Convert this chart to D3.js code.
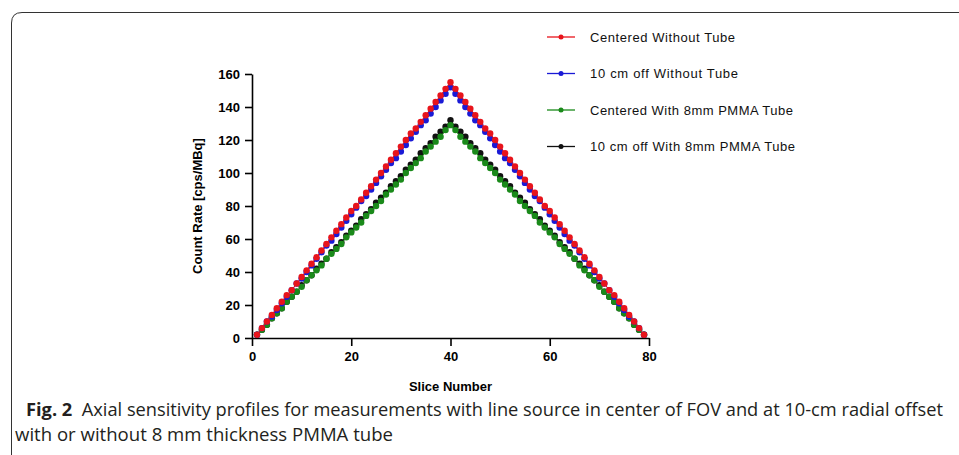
<!DOCTYPE html>
<html>
<head>
<meta charset="utf-8">
<script src="https://cdn.jsdelivr.net/npm/d3@7"></script>
<style>
  body { margin: 0; background: #fff; }
  svg { display: block; }
</style>
</head>
<body>
<div id="chart"></div>
<script>
var slices = d3.range(1, 80)

// values, slice 1..79
var centeredNoTube = [2,6,10,14,18,22,26,29,33,37,41,45,49,53,57,61,65,69,73,77,80,84,88,92,96,100,104,108,112,116,120,124,127,131,135,139,143,147,151,155,
  151,147,143,139,135,131,127,124,120,116,112,108,104,100,96,92,88,84,80,77,73,69,65,61,57,53,49,45,41,37,33,29,26,22,18,14,10,6,2]
var offNoTube = [2,6,10,13,17,21,25,29,33,36,40,44,48,52,56,59,63,67,71,75,79,83,86,90,94,98,102,106,109,113,117,121,125,129,132,136,140,144,148,152,
  148,144,140,136,132,129,125,121,117,113,109,106,102,98,94,90,86,83,79,75,71,67,63,59,56,52,48,44,40,36,33,29,25,21,17,13,10,6,2]
var centeredTube = [2,5,8,12,15,18,22,25,28,31,35,38,41,44,48,51,54,57,61,64,67,70,74,77,80,83,87,90,93,96,100,103,106,109,113,116,119,122,126,129,
  126,122,119,116,113,109,106,103,100,96,93,90,87,83,80,77,74,70,67,64,61,57,54,51,48,44,41,38,35,31,28,25,22,18,15,12,8,5,2]
var offTube = [2,5,8,12,15,18,22,25,28,32,35,38,42,45,48,52,55,58,62,65,68,72,75,78,82,85,88,92,95,98,102,105,108,112,115,118,122,125,128,132,
  128,125,122,118,115,112,108,105,102,98,95,92,88,85,82,78,75,72,68,65,62,58,55,52,48,45,42,38,35,32,28,25,22,18,15,12,8,5,2]

var seriesNames = ['Centered Without Tube', '10 cm off Without Tube', 'Centered With 8mm PMMA Tube', '10 cm off With 8mm PMMA Tube']
var seriesValues = [centeredNoTube, offNoTube, centeredTube, offTube]
var seriesColors = ['#e8141b', '#1a1ad6', '#1a8a1a', '#111111']
var drawOrder = [3, 2, 1, 0]
var legendTextWidths = [145, 148, 203, 205]

var xTicks = [0, 20, 40, 60, 80]
var yTicks = [0, 20, 40, 60, 80, 100, 120, 140, 160]

var width = 959
var height = 455

var svg = d3.select('#chart').append('svg').attr('width', width).attr('height', height)

// frame round the figure
svg.append('path')
  .attr('d', 'M11.5,455 L11.5,23 Q11.5,12.5 22,12.5 L959,12.5')
  .style('fill', 'none')
  .style('stroke', '#333')
  .style('stroke-width', 1)

var x = d3.scaleLinear().domain([0, 80]).range([252, 649])
var y = d3.scaleLinear().domain([0, 160]).range([338, 74])

var xAxis = svg.append('g')
  .attr('transform', 'translate(0,' + y(0) + ')')
  .call(d3.axisBottom(x).tickValues(xTicks).tickSize(8).tickSizeOuter(0).tickPadding(6))
var yAxis = svg.append('g')
  .attr('transform', 'translate(' + x(0) + ',0)')
  .call(d3.axisLeft(y).tickValues(yTicks).tickSize(7).tickSizeOuter(0).tickPadding(5))

svg.selectAll('.domain, .tick line').style('stroke', '#000').style('stroke-width', 1.6)
svg.selectAll('.tick text')
  .style('font-family', 'Liberation Sans, Arial, sans-serif')
  .style('font-weight', 'bold')
  .style('font-size', '13px')
  .style('fill', '#000')

svg.append('text')
  .attr('x', x(40)).attr('y', 391)
  .attr('text-anchor', 'middle')
  .style('font-family', 'Liberation Sans, Arial, sans-serif')
  .style('font-weight', 'bold').style('font-size', '13px')
  .text('Slice Number')

svg.append('text')
  .attr('transform', 'translate(202,' + y(80) + ') rotate(-90)')
  .attr('text-anchor', 'middle')
  .style('font-family', 'Liberation Sans, Arial, sans-serif')
  .style('font-weight', 'bold').style('font-size', '13px')
  .text('Count Rate [cps/MBq]')

var line = d3.line()
  .x(function(d, i) { return x(slices[i]) })
  .y(function(d) { return y(d) })

drawOrder.forEach(function(k) {
  var g = svg.append('g')
  g.append('path')
    .attr('d', line(seriesValues[k]))
    .style('fill', 'none')
    .style('stroke', seriesColors[k])
    .style('stroke-width', 1)
  g.selectAll('circle')
    .data(seriesValues[k])
    .enter()
    .append('circle')
    .attr('cx', function(d, i) { return x(slices[i]) })
    .attr('cy', function(d) { return y(d) })
    .attr('r', 3.2)
    .style('fill', seriesColors[k])
})

// legend
var legend = svg.append('g')
seriesNames.forEach(function(name, k) {
  var ly = 37 + k * 36.5
  legend.append('line')
    .attr('x1', 547).attr('x2', 575).attr('y1', ly).attr('y2', ly)
    .style('stroke', seriesColors[k]).style('stroke-width', 1.3)
  legend.append('circle')
    .attr('cx', 561).attr('cy', ly).attr('r', 2.5)
    .style('fill', seriesColors[k])
  legend.append('text')
    .attr('x', 590).attr('y', ly + 4.5)
    .attr('textLength', legendTextWidths[k]).attr('lengthAdjust', 'spacing')
    .style('font-family', 'Liberation Sans, Arial, sans-serif')
    .style('font-size', '13px')
    .style('fill', '#111')
    .text(name)
})

// caption
var cap = svg.append('text')
  .attr('x', 26).attr('y', 416)
  .attr('textLength', 917).attr('lengthAdjust', 'spacingAndGlyphs')
  .style('font-family', 'Open Sans, sans-serif')
  .style('font-size', '18px')
  .style('fill', '#231f20')
cap.append('tspan').style('font-weight', 'bold').text('Fig. 2')
cap.append('tspan').text('\u00a0\u00a0Axial sensitivity profiles for measurements with line source in center of FOV and at 10-cm radial offset')

svg.append('text')
  .attr('x', 15).attr('y', 441)
  .attr('textLength', 378).attr('lengthAdjust', 'spacingAndGlyphs')
  .style('font-family', 'Open Sans, sans-serif')
  .style('font-size', '18px')
  .style('fill', '#231f20')
  .text('with or without 8 mm thickness PMMA tube')
</script>
</body>
</html>
